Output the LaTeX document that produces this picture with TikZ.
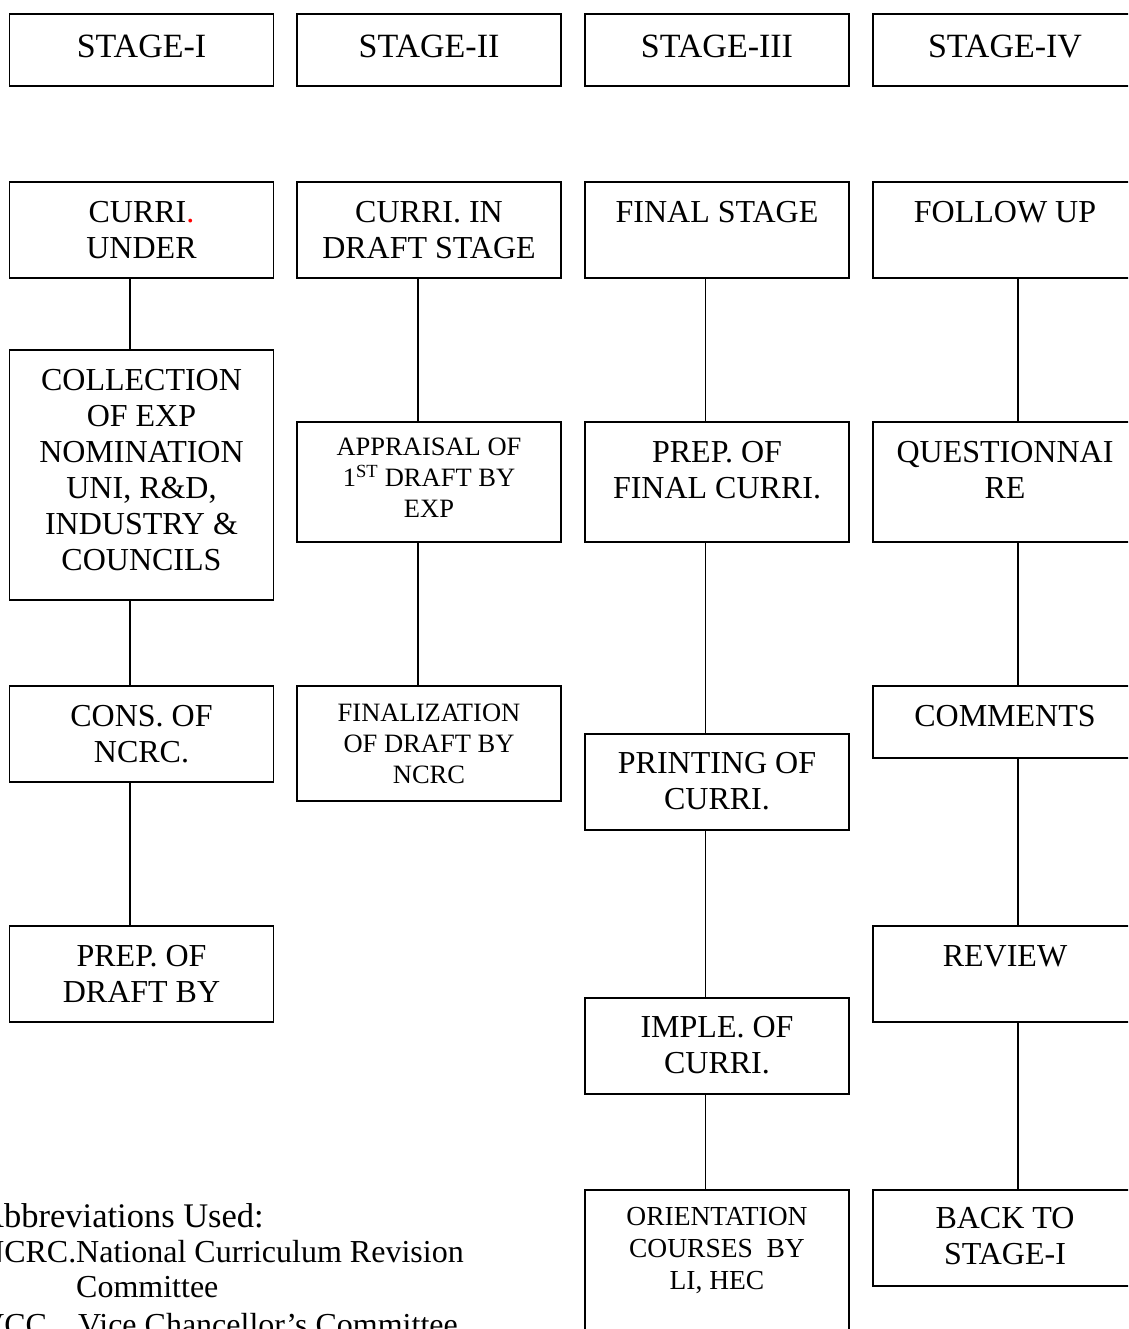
\documentclass[tikz,border=0pt]{standalone}
\usepackage{fontspec}
\setmainfont{Liberation Serif}
\begin{document}
\begin{tikzpicture}[x=1pt,y=-1pt,
  box/.style={draw, line width=1.7pt, rectangle, anchor=north, minimum width=264pt, inner sep=0pt},
  stagetxt/.style={font=\fontsize{34}{38}\selectfont, align=center, inner sep=0pt, anchor=north},
  txt/.style={font=\fontsize{32}{36}\selectfont, align=center, inner sep=0pt, anchor=north},
  smalltxt/.style={font=\fontsize{26.5}{31}\selectfont, align=center, inner sep=0pt, anchor=north},
  abbr/.style={font=\fontsize{32}{36}\selectfont, inner sep=0pt, anchor=base west},
  conn/.style={line width=1.7pt}]
\useasboundingbox (0,0) rectangle (1128,1329);
\clip (0,0) rectangle (1128,1329);

% ---------- stage row ----------
\node[box, minimum height=72pt] (s1) at (141.5,13) {};
\node[box, minimum height=72pt] (s2) at (429,13) {};
\node[box, minimum height=72pt] (s3) at (717,13) {};
\node[box, minimum height=72pt] (s4) at (1005,13) {};
\node[stagetxt] (s1t) at ([yshift=-22pt]s1.north) {STAGE-I};
\node[stagetxt] (s2t) at ([yshift=-22pt]s2.north) {STAGE-II};
\node[stagetxt] (s3t) at ([yshift=-22pt]s3.north) {STAGE-III};
\node[stagetxt] (s4t) at ([yshift=-22pt]s4.north) {STAGE-IV};

% ---------- column 1 ----------
\node[box, minimum height=96pt] (a1) at (141.5,181) {};
\node[box, minimum height=250pt] (a2) at (141.5,349) {};
\node[box, minimum height=96pt] (a3) at (141.5,685) {};
\node[box, minimum height=96pt] (a4) at (141.5,925) {};
\node[txt] (a1t) at ([yshift=-20pt]a1.north) {CURRI\textcolor{red}{.}\\UNDER};
\node[txt] (a2t) at ([yshift=-20pt]a2.north) {COLLECTION\\OF EXP\\NOMINATION\\UNI, R\&D,\\INDUSTRY \&\\COUNCILS};
\node[txt] (a3t) at ([yshift=-20pt]a3.north) {CONS. OF\\NCRC.};
\node[txt] (a4t) at ([yshift=-20pt]a4.north) {PREP. OF\\DRAFT BY};
\draw[conn] ([xshift=-11.5pt]a1.south) -- ([xshift=-11.5pt]a2.north);
\draw[conn] ([xshift=-11.5pt]a2.south) -- ([xshift=-11.5pt]a3.north);
\draw[conn] ([xshift=-11.5pt]a3.south) -- ([xshift=-11.5pt]a4.north);

% ---------- column 2 ----------
\node[box, minimum height=96pt] (b1) at (429,181) {};
\node[box, minimum height=120pt] (b2) at (429,421) {};
\node[box, minimum height=115pt] (b3) at (429,685) {};
\node[txt] (b1t) at ([yshift=-20pt]b1.north) {CURRI. IN\\DRAFT STAGE};
\node[smalltxt] (b2t) at ([yshift=-17pt]b2.north) {APPRAISAL OF\\1\textsuperscript{ST} DRAFT BY\\EXP};
\node[smalltxt] (b3t) at ([yshift=-19pt]b3.north) {FINALIZATION\\OF DRAFT BY\\NCRC};
\draw[conn] ([xshift=-11pt]b1.south) -- ([xshift=-11pt]b2.north);
\draw[conn] ([xshift=-11pt]b2.south) -- ([xshift=-11pt]b3.north);

% ---------- column 3 ----------
\node[box, minimum height=96pt] (c1) at (717,181) {};
\node[box, minimum height=120pt] (c2) at (717,421) {};
\node[box, minimum height=96pt] (c3) at (717,733) {};
\node[box, minimum height=96pt] (c4) at (717,997) {};
\node[box, minimum height=220pt] (c5) at (717,1189) {};
\node[txt] (c1t) at ([yshift=-20pt]c1.north) {FINAL STAGE};
\node[txt] (c2t) at ([yshift=-20pt]c2.north) {PREP. OF\\FINAL CURRI.};
\node[txt] (c3t) at ([yshift=-19pt]c3.north) {PRINTING OF\\CURRI.};
\node[txt] (c4t) at ([yshift=-19pt]c4.north) {IMPLE. OF\\CURRI.};
\node[font=\fontsize{27.5}{32}\selectfont, align=center, inner sep=0pt, anchor=north] (c5t) at ([yshift=-18pt]c5.north) {ORIENTATION\\COURSES\ \ BY\\LI, HEC};
\draw[conn] ([xshift=-11.5pt]c1.south) -- ([xshift=-11.5pt]c2.north);
\draw[conn] ([xshift=-11.5pt]c2.south) -- ([xshift=-11.5pt]c3.north);
\draw[conn] ([xshift=-11.5pt]c3.south) -- ([xshift=-11.5pt]c4.north);
\draw[conn] ([xshift=-11.5pt]c4.south) -- ([xshift=-11.5pt]c5.north);

% ---------- column 4 ----------
\node[box, minimum height=96pt] (d1) at (1005,181) {};
\node[box, minimum height=120pt] (d2) at (1005,421) {};
\node[box, minimum height=72pt] (d3) at (1005,685) {};
\node[box, minimum height=96pt] (d4) at (1005,925) {};
\node[box, minimum height=96pt] (d5) at (1005,1189) {};
\node[txt] (d1t) at ([yshift=-20pt]d1.north) {FOLLOW UP};
\node[txt] (d2t) at ([yshift=-20pt]d2.north) {QUESTIONNAI\\RE};
\node[txt] (d3t) at ([yshift=-20pt]d3.north) {COMMENTS};
\node[txt] (d4t) at ([yshift=-20pt]d4.north) {REVIEW};
\node[txt] (d5t) at ([yshift=-18pt]d5.north) {BACK TO\\STAGE-I};
\draw[conn] ([xshift=12.7pt]d1.south) -- ([xshift=12.7pt]d2.north);
\draw[conn] ([xshift=12.7pt]d2.south) -- ([xshift=12.7pt]d3.north);
\draw[conn] ([xshift=12.7pt]d3.south) -- ([xshift=12.7pt]d4.north);
\draw[conn] ([xshift=12.7pt]d4.south) -- ([xshift=12.7pt]d5.north);

% ---------- abbreviations ----------
\node[abbr, font=\fontsize{34.5}{38}\selectfont] (ab0) at (-21,1227) {Abbreviations Used:};
\node[abbr] (ab1) at (-19,1262) {NCRC.};
\node[abbr] (ab1d) at (76,1262) {National Curriculum Revision};
\node[abbr] (ab1e) at (76,1297) {Committee};
\node[abbr] (ab2) at (-19,1335) {VCC};
\node[abbr] (ab2d) at (78,1335) {Vice Chancellor’s Committee};
\end{tikzpicture}
\end{document}
